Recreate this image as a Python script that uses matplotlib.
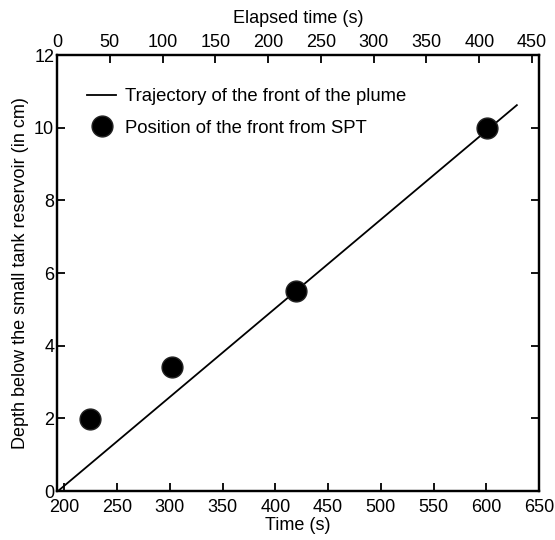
import matplotlib
matplotlib.use("Agg")
import matplotlib.pyplot as plt

plt.rcParams['font.family'] = ['Liberation Sans', 'DejaVu Sans']

# Data
line_time = [194, 629]
line_depth = [0.0, 10.62]
spt_time = [224, 302, 420, 601]
spt_depth = [1.98, 3.42, 5.5, 10.0]
x_ticks = [200, 250, 300, 350, 400, 450, 500, 550, 600, 650]
top_ticks = [0, 50, 100, 150, 200, 250, 300, 350, 400, 450]
y_ticks = [0, 2, 4, 6, 8, 10, 12]

fs = 13

fig = plt.figure(figsize=(5.55, 5.4), dpi=100)
ax = fig.add_axes([57/555, 49/540, 482/555, 436/540])

ax.plot(line_time, line_depth, color='black', lw=1.3,
        label='Trajectory of the front of the plume')
ax.plot(spt_time, spt_depth, 'o', color='black', markersize=15,
        markeredgecolor='#222222', markeredgewidth=1.0, linestyle='none',
        label='Position of the front from SPT')

ax.set_xlim(193, 650)
ax.set_ylim(0, 12)
ax.set_xticks(x_ticks)
ax.set_yticks(y_ticks)
ax.tick_params(axis='x', direction='in', length=6, width=1.3, labelsize=fs,
               top=False, pad=6)
ax.tick_params(axis='y', direction='in', length=6, width=1.3, labelsize=fs,
               right=True, pad=2)
for s in ax.spines.values():
    s.set_linewidth(1.6)

ax.set_xlabel('Time (s)', fontsize=fs, labelpad=0.5)
ax.set_ylabel('Depth below the small tank reservoir (in cm)', fontsize=fs,
              labelpad=4)

ax2 = ax.twiny()
ax2.set_xlim(0, 456.6)
ax2.set_xticks(top_ticks)
ax2.tick_params(direction='in', length=6, width=1.3, labelsize=fs, pad=3)
ax2.set_xlabel('Elapsed time (s)', fontsize=fs, labelpad=8)
for s in ax2.spines.values():
    s.set_linewidth(1.6)

leg = ax.legend(loc='upper left', bbox_to_anchor=(0.062, 0.924),
                frameon=False, fontsize=13.3, numpoints=1,
                handlelength=1.6, handletextpad=0.45, labelspacing=0.8,
                borderpad=0, borderaxespad=0)

fig.savefig('out.png', dpi=100)
